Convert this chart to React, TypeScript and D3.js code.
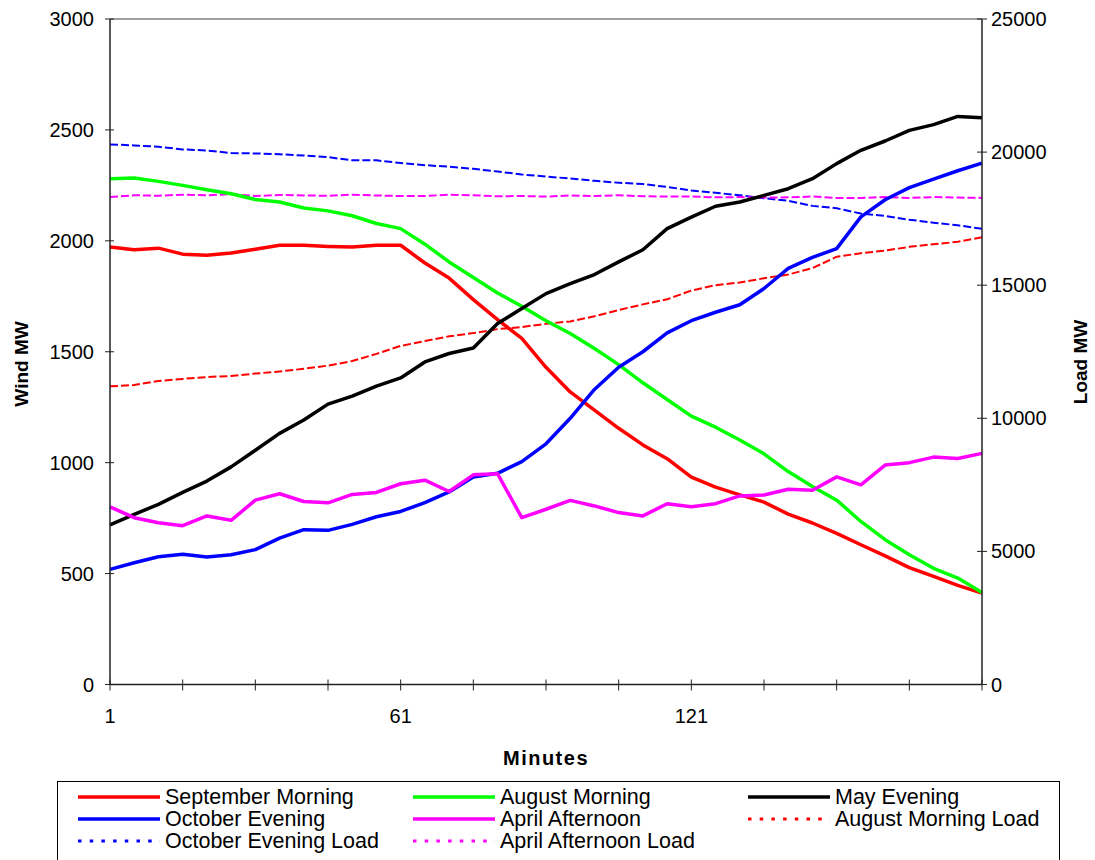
import React from "react";
import * as d3 from "d3";

const minutes = [1, 6, 11, 16, 21, 26, 31, 36, 41, 46, 51, 56, 61, 66, 71, 76, 81, 86, 91, 96, 101, 106, 111, 116, 121, 126, 131, 136, 141, 146, 151, 156, 161, 166, 171, 176, 181];

const septemberMorning = [1972, 1960, 1967, 1940, 1935, 1945, 1962, 1980, 1980, 1975, 1972, 1980, 1980, 1900, 1832, 1735, 1645, 1560, 1430, 1319, 1237, 1155, 1080, 1018, 935, 890, 855, 822, 768, 728, 681, 630, 580, 527, 487, 447, 412];
const augustMorning = [2280, 2283, 2268, 2250, 2230, 2212, 2186, 2175, 2148, 2135, 2113, 2078, 2055, 1985, 1905, 1835, 1765, 1705, 1640, 1582, 1515, 1442, 1360, 1285, 1210, 1160, 1102, 1040, 960, 893, 831, 735, 653, 585, 524, 480, 415];
const mayEvening = [720, 767, 812, 866, 917, 981, 1056, 1132, 1192, 1264, 1300, 1345, 1382, 1454, 1492, 1517, 1627, 1695, 1762, 1807, 1848, 1905, 1960, 2055, 2107, 2156, 2175, 2205, 2235, 2280, 2348, 2408, 2450, 2498, 2524, 2561, 2555];
const octoberEvening = [519, 549, 576, 587, 575, 585, 608, 660, 698, 695, 722, 756, 780, 820, 868, 935, 952, 1005, 1085, 1200, 1330, 1430, 1500, 1585, 1640, 1678, 1712, 1785, 1876, 1925, 1965, 2108, 2185, 2240, 2278, 2316, 2350];
const aprilAfternoon = [801, 752, 729, 716, 760, 740, 831, 860, 825, 819, 857, 866, 905, 921, 870, 945, 950, 752, 790, 830, 805, 775, 760, 815, 801, 815, 850, 854, 880, 876, 936, 900, 989, 1000, 1025, 1019, 1042];
const augustMorningLoad = [11200, 11250, 11400, 11480, 11550, 11590, 11680, 11760, 11860, 11980, 12150, 12420, 12720, 12900, 13080, 13200, 13350, 13430, 13550, 13640, 13830, 14070, 14280, 14470, 14800, 15000, 15100, 15260, 15400, 15640, 16070, 16200, 16300, 16440, 16540, 16630, 16800];
const octoberEveningLoad = [20290, 20250, 20200, 20100, 20060, 19965, 19950, 19920, 19870, 19810, 19690, 19690, 19590, 19510, 19450, 19370, 19270, 19160, 19080, 19010, 18920, 18850, 18800, 18690, 18560, 18470, 18380, 18270, 18170, 17980, 17890, 17690, 17600, 17460, 17350, 17250, 17120];
const aprilAfternoonLoad = [18310, 18380, 18360, 18400, 18380, 18420, 18350, 18390, 18370, 18360, 18400, 18370, 18350, 18350, 18400, 18380, 18340, 18350, 18330, 18370, 18350, 18380, 18340, 18330, 18330, 18300, 18310, 18290, 18300, 18330, 18280, 18280, 18310, 18280, 18310, 18290, 18280];

const xTickValues = [1, 16, 31, 46, 61, 76, 91, 106, 121, 136, 151, 166, 181];
const xTickLabels = [1, 61, 121];
const leftTicks = [0, 500, 1000, 1500, 2000, 2500, 3000];
const rightTicks = [0, 5000, 10000, 15000, 20000, 25000];

type Series = { name: string; values: number[]; color: string; axis: "left" | "right"; dashed: boolean };

const series: Series[] = [
  { name: "August Morning Load", values: augustMorningLoad, color: "#FF0000", axis: "right", dashed: true },
  { name: "October Evening Load", values: octoberEveningLoad, color: "#0000FF", axis: "right", dashed: true },
  { name: "April Afternoon Load", values: aprilAfternoonLoad, color: "#FF00FF", axis: "right", dashed: true },
  { name: "September Morning", values: septemberMorning, color: "#FF0000", axis: "left", dashed: false },
  { name: "August Morning", values: augustMorning, color: "#00FF00", axis: "left", dashed: false },
  { name: "May Evening", values: mayEvening, color: "#000000", axis: "left", dashed: false },
  { name: "October Evening", values: octoberEvening, color: "#0000FF", axis: "left", dashed: false },
  { name: "April Afternoon", values: aprilAfternoon, color: "#FF00FF", axis: "left", dashed: false },
];

const legendOrder = [
  "September Morning", "August Morning", "May Evening",
  "October Evening", "April Afternoon", "August Morning Load",
  "October Evening Load", "April Afternoon Load",
];

const W = 1095, H = 860;
const L = 110, R = 982, T = 19, B = 684.5;
const FONT = "Liberation Sans, Arial, sans-serif";

export default function App() {
  const x = d3.scaleLinear().domain([1, 181]).range([L, R]);
  const yL = d3.scaleLinear().domain([0, 3000]).range([B, T]);
  const yR = d3.scaleLinear().domain([0, 25000]).range([B, T]);

  const mk = (s: Series) => {
    const y = s.axis === "left" ? yL : yR;
    return d3.line<number>().x((_, i) => x(minutes[i])).y((v) => y(v))(s.values) || "";
  };

  const legendX = [78, 413, 748];
  const legendY = [797, 819, 841];

  return (
    <svg width={W} height={H} style={{ position: "absolute", left: 0, top: 0, background: "#fff" }} fontFamily={FONT}>
      <rect x={0} y={0} width={W} height={H} fill="#fff" />
      {/* plot border */}
      <line x1={L} x2={R} y1={T} y2={T} stroke="#808080" strokeWidth={1.5} />
      {/* series */}
      {series.map((s) => (
        <path key={s.name} d={mk(s)} fill="none" stroke={s.color}
          strokeWidth={s.dashed ? 2 : 3.5}
          strokeDasharray={s.dashed ? "8,3" : undefined}
          strokeLinejoin="round" />
      ))}
      {/* axes */}
      <line x1={L} x2={L} y1={T} y2={B} stroke="#222" strokeWidth={1.5} />
      <line x1={R} x2={R} y1={T} y2={B} stroke="#222" strokeWidth={1.5} />
      <line x1={L} x2={R} y1={B} y2={B} stroke="#222" strokeWidth={1.5} />
      {leftTicks.map((t) => (
        <g key={"l" + t}>
          <line x1={L - 5} x2={L + 4} y1={yL(t)} y2={yL(t)} stroke="#222" strokeWidth={1} />
          <text x={L - 16} y={yL(t)} dy="0.35em" textAnchor="end" fontSize={20}>{t}</text>
        </g>
      ))}
      {rightTicks.map((t) => (
        <g key={"r" + t}>
          <line x1={R - 5} x2={R + 5} y1={yR(t)} y2={yR(t)} stroke="#222" strokeWidth={1} />
          <text x={R + 9} y={yR(t)} dy="0.35em" textAnchor="start" fontSize={20}>{t}</text>
        </g>
      ))}
      {xTickValues.map((t) => (
        <line key={"x" + t} x1={x(t)} x2={x(t)} y1={B - 5} y2={B + 6} stroke="#222" strokeWidth={1} />
      ))}
      {xTickLabels.map((t) => (
        <text key={"xl" + t} x={x(t)} y={716} dy="0.35em" textAnchor="middle" fontSize={20}>{t}</text>
      ))}
      <text x={546} y={758} dy="0.35em" textAnchor="middle" fontSize={20} fontWeight="bold" letterSpacing={1.5}>Minutes</text>
      <text transform={`translate(21,364) rotate(-90)`} dy="0.35em" textAnchor="middle" fontSize={19} fontWeight="bold">Wind MW</text>
      <text transform={`translate(1080,362) rotate(-90)`} dy="0.35em" textAnchor="middle" fontSize={19} fontWeight="bold">Load MW</text>
      {/* legend */}
      <rect x={57.5} y={781.5} width={1002} height={90} fill="none" stroke="#000" strokeWidth={1} />
      {legendOrder.map((name, i) => {
        const s = series.find((d) => d.name === name)!;
        const cx = legendX[i % 3];
        const cy = legendY[Math.floor(i / 3)];
        return (
          <g key={"lg" + name}>
            <line x1={cx} x2={cx + 82} y1={cy} y2={cy} stroke={s.color}
              strokeWidth={s.dashed ? 3 : 3.5}
              strokeDasharray={s.dashed ? "3.5,8.2" : undefined} />
            <text x={cx + 87} y={cy + 6.5} fontSize={21.5}>{name}</text>
          </g>
        );
      })}
    </svg>
  );
}
